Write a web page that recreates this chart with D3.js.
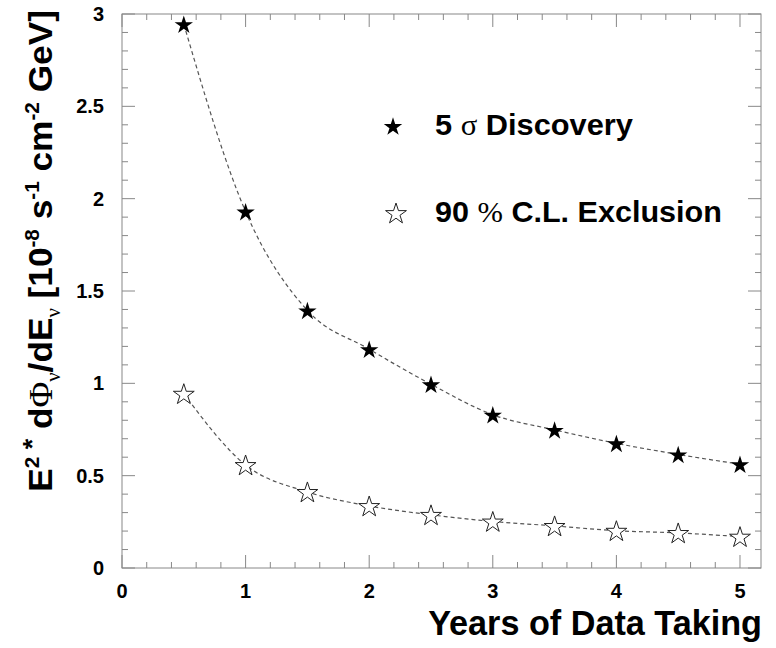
<!DOCTYPE html>
<html><head><meta charset="utf-8">
<script src="https://cdn.jsdelivr.net/npm/d3@7"></script>
<style>
html,body{margin:0;padding:0;background:#fff;}
text{font-family:"Liberation Sans",Arial,Helvetica,sans-serif;font-weight:bold;fill:#000;}
.sym{font-family:"Liberation Serif","DejaVu Serif",serif;font-weight:normal;}
</style></head>
<body>
<svg id="c" width="776" height="648"></svg>
<script>
const years = [0.5,1,1.5,2,2.5,3,3.5,4,4.5,5];
const discovery = [2.945,1.93,1.395,1.185,0.995,0.83,0.748,0.675,0.615,0.562];
const exclusion = [0.944,0.558,0.412,0.336,0.288,0.252,0.228,0.202,0.19,0.17];
const xTicks = [0,1,2,3,4,5];
const yTicks = [0,0.5,1,1.5,2,2.5,3];

const svg = d3.select("#c");
const L=122,T=14,R=761,B=568;
const x = d3.scaleLinear().domain([0,5.17]).range([L,R]);
const y = d3.scaleLinear().domain([0,3]).range([B,T]);

function fitWidth(sel, target, base){
  const w = sel.node().getComputedTextLength();
  sel.attr("transform", base + ` scale(${target/w},1)`);
}

const frameCol="#888";
svg.append("rect").attr("x",L).attr("y",T).attr("width",R-L).attr("height",B-T)
  .attr("fill","none").attr("stroke",frameCol).attr("stroke-width",1);

const g=svg.append("g").attr("stroke",frameCol).attr("stroke-width",1);
d3.range(0,5.17,0.2).forEach(v=>{
  const major=Math.abs(v-Math.round(v))<1e-6;
  const len=major?13:6;
  g.append("line").attr("x1",x(v)).attr("x2",x(v)).attr("y1",B).attr("y2",B-len);
  g.append("line").attr("x1",x(v)).attr("x2",x(v)).attr("y1",T).attr("y2",T+len);
});
d3.range(0,3.0001,0.1).forEach(v=>{
  const major=Math.abs(v*2-Math.round(v*2))<1e-6;
  const len=major?13:6;
  g.append("line").attr("x1",L).attr("x2",L+len).attr("y1",y(v)).attr("y2",y(v));
  g.append("line").attr("x1",R).attr("x2",R-len).attr("y1",y(v)).attr("y2",y(v));
});

svg.append("g").selectAll("text").data(xTicks).join("text")
  .attr("x",d=>x(d)).attr("y",598).attr("text-anchor","middle")
  .attr("font-size",20).text(d=>d);
svg.append("g").selectAll("text").data(yTicks).join("text")
  .attr("x",104).attr("y",d=>y(d)+7).attr("text-anchor","end")
  .attr("font-size",20).text(d=>d);

// x title
const xt=svg.append("text").attr("x",0).attr("y",0).attr("text-anchor","end")
  .attr("font-size",35).text("Years of Data Taking");
fitWidth(xt,334,"translate(762,635)");

// y title
const yt=svg.append("text").attr("text-anchor","middle").attr("font-size",34);
const SUP=20;
yt.append("tspan").text("E");
yt.append("tspan").attr("dy",-13).attr("font-size",SUP).text("2");
yt.append("tspan").attr("dy",2).attr("font-size",26).text(" *");
yt.append("tspan").attr("dy",11).text(" d");
yt.append("tspan").attr("class","sym").text("Φ");
yt.append("tspan").attr("class","sym").attr("dy",8).attr("font-size",SUP).text("ν");
yt.append("tspan").attr("dy",-8).text("/dE");
yt.append("tspan").attr("class","sym").attr("dy",8).attr("font-size",SUP).text("ν");
yt.append("tspan").attr("dy",-8).text(" [10");
yt.append("tspan").attr("dy",-13).attr("font-size",SUP).text("-8");
yt.append("tspan").attr("dy",13).text(" s");
yt.append("tspan").attr("dy",-13).attr("font-size",SUP).text("-1");
yt.append("tspan").attr("dy",13).text(" cm");
yt.append("tspan").attr("dy",-13).attr("font-size",SUP).text("-2");
yt.append("tspan").attr("dy",13).text(" GeV]");
fitWidth(yt,482,"translate(52,251) rotate(-90)");

const line=d3.line().x(d=>x(d[0])).y(d=>y(d[1])).curve(d3.curveMonotoneX);
const dData=years.map((v,i)=>[v,discovery[i]]);
const eData=years.map((v,i)=>[v,exclusion[i]]);
[dData,eData].forEach(dd=>{
  svg.append("path").attr("d",line(dd)).attr("fill","none")
    .attr("stroke","#555").attr("stroke-width",1.2).attr("stroke-dasharray","4,3");
});

const starFilled=d3.symbol().type(d3.symbolStar).size(105);
const starHollow=d3.symbol().type(d3.symbolStar).size(135);
svg.append("g").selectAll("path").data(dData).join("path")
  .attr("transform",d=>`translate(${x(d[0])},${y(d[1])+1})`)
  .attr("d",starFilled()).attr("fill","#000");
svg.append("g").selectAll("path").data(eData).join("path")
  .attr("transform",d=>`translate(${x(d[0])},${y(d[1])+1})`)
  .attr("d",starHollow()).attr("fill","#fff").attr("stroke","#222").attr("stroke-width",1);

svg.append("path").attr("transform","translate(393,127)").attr("d",starFilled()).attr("fill","#000");
svg.append("path").attr("transform","translate(396,214)").attr("d",starHollow())
  .attr("fill","#fff").attr("stroke","#222").attr("stroke-width",1);
const l1=svg.append("text").attr("font-size",30);
l1.append("tspan").text("5 ");
l1.append("tspan").attr("class","sym").text("σ");
l1.append("tspan").text(" Discovery");
fitWidth(l1,198,"translate(435,135)");
const l2=svg.append("text").attr("font-size",30);
l2.append("tspan").text("90 ");
l2.append("tspan").attr("class","sym").text("%");
l2.append("tspan").text(" C.L. Exclusion");
fitWidth(l2,287,"translate(435,222)");
</script>
</body></html>
